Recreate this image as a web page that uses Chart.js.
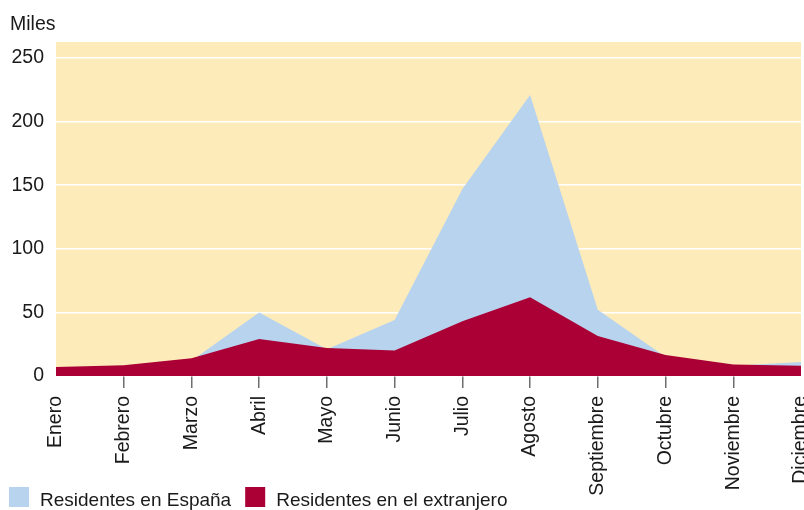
<!DOCTYPE html>
<html>
<head>
<meta charset="utf-8">
<script src="https://cdn.jsdelivr.net/npm/chart.js@4"></script>
<style>
  html, body { margin: 0; padding: 0; background: #ffffff; }
  #wrap { width: 804px; height: 510px; position: relative; }
</style>
</head>
<body>
<div id="wrap"><canvas id="c" width="804" height="510"></canvas></div>
<script>
const months = ['Enero','Febrero','Marzo','Abril','Mayo','Junio','Julio','Agosto','Septiembre','Octubre','Noviembre','Diciembre'];
const residentesEspana = [5, 6, 12, 50, 21, 44, 147, 221, 52, 15, 8, 11];
const residentesExtranjero = [7, 8.5, 14, 29, 22, 20, 43, 62, 31.5, 16.5, 9, 8];
const yTicks = [0, 50, 100, 150, 200, 250];
const unitLabel = 'Miles';
const seriesNames = ['Residentes en España', 'Residentes en el extranjero'];

const FONT = '"Liberation Sans", Arial, sans-serif';
const YELLOW = '#FDEBBA';
const BLUE = '#B8D3EE';
const RED = '#AA0036';

const bgPlugin = {
  id: 'bg',
  beforeDraw(chart) {
    const {ctx, chartArea: a} = chart;
    ctx.save();
    ctx.fillStyle = YELLOW;
    ctx.fillRect(a.left, a.top, a.right - a.left, a.bottom - a.top);
    ctx.restore();
  }
};

const extrasPlugin = {
  id: 'extras',
  afterDraw(chart) {
    const ctx = chart.ctx;
    ctx.save();
    ctx.fillStyle = '#1a1a1a';
    ctx.font = '19.5px ' + FONT;
    ctx.textBaseline = 'alphabetic';
    ctx.textAlign = 'left';
    ctx.fillText(unitLabel, 10, 30);
    // legend
    ctx.font = '19px ' + FONT;
    const items = [
      {label: chart.data.datasets[0].label, color: chart.data.datasets[0].backgroundColor},
      {label: chart.data.datasets[1].label, color: chart.data.datasets[1].backgroundColor}
    ];
    let x = 9;
    items.forEach(it => {
      ctx.fillStyle = it.color;
      ctx.fillRect(x, 487, 20, 20);
      ctx.fillStyle = '#1a1a1a';
      ctx.fillText(it.label, x + 31, 506);
      x += 31 + ctx.measureText(it.label).width + 14;
    });
    ctx.restore();
  }
};

new Chart(document.getElementById('c'), {
  type: 'line',
  data: {
    labels: months,
    datasets: [
      {
        label: seriesNames[0],
        data: residentesEspana,
        backgroundColor: BLUE,
        borderColor: BLUE,
        borderWidth: 0,
        pointRadius: 0,
        fill: 'origin',
        tension: 0,
        order: 1
      },
      {
        label: seriesNames[1],
        data: residentesExtranjero,
        backgroundColor: RED,
        borderColor: RED,
        borderWidth: 0,
        pointRadius: 0,
        fill: 'origin',
        tension: 0,
        order: 0
      }
    ]
  },
  options: {
    responsive: false,
    animation: false,
    devicePixelRatio: 1,
    layout: { padding: { top: 42, left: 0, right: 3, bottom: 0 } },
    plugins: {
      legend: { display: false },
      tooltip: { enabled: false },
      title: { display: false }
    },
    scales: {
      x: {
        offset: false,
        border: { display: false },
        grid: {
          drawOnChartArea: false,
          drawTicks: true,
          tickLength: 12,
          lineWidth: 1.5,
          color: (c) => (c.index === 0 || c.index === months.length - 1) ? 'rgba(0,0,0,0)' : '#6e6e6e'
        },
        ticks: {
          autoSkip: false,
          maxRotation: 90,
          minRotation: 90,
          padding: 8,
          color: '#1a1a1a',
          font: { family: FONT, size: 19.5 }
        },
        afterFit(s) { s.height = 134; s.paddingLeft = 0; s.paddingRight = 0; }
      },
      y: {
        min: 0,
        max: 262.6,
        border: { display: false },
        grid: { color: '#ffffff', lineWidth: 1.5, drawTicks: false },
        afterBuildTicks(s) { s.ticks = yTicks.map(v => ({value: v})); },
        ticks: {
          padding: 12,
          color: '#1a1a1a',
          font: { family: FONT, size: 19.5 }
        },
        afterFit(s) { s.width = 56; s.paddingTop = 0; s.paddingBottom = 0; }
      }
    }
  },
  plugins: [bgPlugin, extrasPlugin]
});
</script>
</body>
</html>
